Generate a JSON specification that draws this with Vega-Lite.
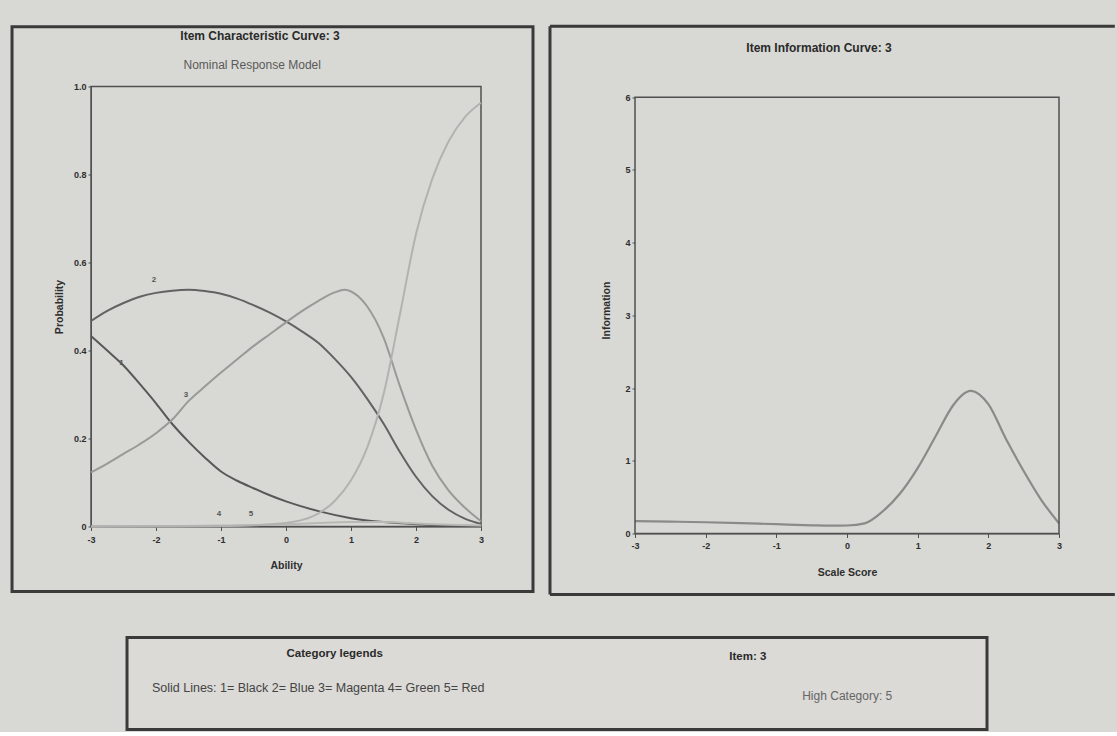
{
  "$schema": "https://vega.github.io/schema/vega-lite/v6.json",
  "background": "#d8d8d4",
  "padding": {"left": 9, "top": 23.5, "right": 0, "bottom": 0},
  "config": {
    "font": "Liberation Sans",
    "view": {"stroke": "#505050", "strokeWidth": 1.5},
    "axis": {
      "grid": false,
      "zindex": 1,
      "domainColor": "#505050",
      "tickColor": "#505050",
      "labelColor": "#2e2e2e",
      "titleColor": "#2e2e2e",
      "labelFontSize": 9,
      "labelFontWeight": "bold",
      "titleFontSize": 10.5,
      "titleFontWeight": "bold",
      "tickSize": 4,
      "labelFlush": false,
      "labelOverlap": false
    }
  },
  "datasets": {
    "icc": [
      {"cat": "1", "x": -3, "p": 0.433}, {"cat": "1", "x": -2.75, "p": 0.4}, {"cat": "1", "x": -2.5, "p": 0.366},
      {"cat": "1", "x": -2.25, "p": 0.324}, {"cat": "1", "x": -2, "p": 0.28}, {"cat": "1", "x": -1.75, "p": 0.233},
      {"cat": "1", "x": -1.5, "p": 0.193}, {"cat": "1", "x": -1.25, "p": 0.157}, {"cat": "1", "x": -1, "p": 0.125},
      {"cat": "1", "x": -0.75, "p": 0.104}, {"cat": "1", "x": -0.5, "p": 0.087}, {"cat": "1", "x": -0.25, "p": 0.071},
      {"cat": "1", "x": 0, "p": 0.057}, {"cat": "1", "x": 0.5, "p": 0.035}, {"cat": "1", "x": 1, "p": 0.019},
      {"cat": "1", "x": 1.5, "p": 0.01}, {"cat": "1", "x": 2, "p": 0.005}, {"cat": "1", "x": 2.5, "p": 0.002},
      {"cat": "1", "x": 3, "p": 0.001},
      {"cat": "2", "x": -3, "p": 0.467}, {"cat": "2", "x": -2.75, "p": 0.49}, {"cat": "2", "x": -2.5, "p": 0.508},
      {"cat": "2", "x": -2.25, "p": 0.522}, {"cat": "2", "x": -2, "p": 0.531}, {"cat": "2", "x": -1.75, "p": 0.536},
      {"cat": "2", "x": -1.5, "p": 0.538}, {"cat": "2", "x": -1.25, "p": 0.535}, {"cat": "2", "x": -1, "p": 0.529},
      {"cat": "2", "x": -0.75, "p": 0.518}, {"cat": "2", "x": -0.5, "p": 0.503}, {"cat": "2", "x": -0.25, "p": 0.486},
      {"cat": "2", "x": 0, "p": 0.466}, {"cat": "2", "x": 0.25, "p": 0.443}, {"cat": "2", "x": 0.5, "p": 0.417},
      {"cat": "2", "x": 0.75, "p": 0.381}, {"cat": "2", "x": 1, "p": 0.34}, {"cat": "2", "x": 1.25, "p": 0.29},
      {"cat": "2", "x": 1.5, "p": 0.234}, {"cat": "2", "x": 1.75, "p": 0.17}, {"cat": "2", "x": 2, "p": 0.113},
      {"cat": "2", "x": 2.25, "p": 0.069}, {"cat": "2", "x": 2.5, "p": 0.038}, {"cat": "2", "x": 2.75, "p": 0.018},
      {"cat": "2", "x": 3, "p": 0.006},
      {"cat": "3", "x": -3, "p": 0.123}, {"cat": "3", "x": -2.75, "p": 0.143}, {"cat": "3", "x": -2.5, "p": 0.165},
      {"cat": "3", "x": -2.25, "p": 0.187}, {"cat": "3", "x": -2, "p": 0.212}, {"cat": "3", "x": -1.75, "p": 0.243},
      {"cat": "3", "x": -1.5, "p": 0.285}, {"cat": "3", "x": -1.25, "p": 0.318}, {"cat": "3", "x": -1, "p": 0.35},
      {"cat": "3", "x": -0.75, "p": 0.38}, {"cat": "3", "x": -0.5, "p": 0.41}, {"cat": "3", "x": -0.25, "p": 0.437},
      {"cat": "3", "x": 0, "p": 0.464}, {"cat": "3", "x": 0.25, "p": 0.49}, {"cat": "3", "x": 0.5, "p": 0.513},
      {"cat": "3", "x": 0.75, "p": 0.532}, {"cat": "3", "x": 0.9, "p": 0.538}, {"cat": "3", "x": 1.05, "p": 0.53},
      {"cat": "3", "x": 1.25, "p": 0.5}, {"cat": "3", "x": 1.5, "p": 0.43}, {"cat": "3", "x": 1.75, "p": 0.32},
      {"cat": "3", "x": 2, "p": 0.22}, {"cat": "3", "x": 2.25, "p": 0.138}, {"cat": "3", "x": 2.5, "p": 0.082},
      {"cat": "3", "x": 2.75, "p": 0.043}, {"cat": "3", "x": 3, "p": 0.012},
      {"cat": "4", "x": -3, "p": 0.0}, {"cat": "4", "x": -2, "p": 0.001}, {"cat": "4", "x": -1, "p": 0.002},
      {"cat": "4", "x": 0, "p": 0.005}, {"cat": "4", "x": 0.5, "p": 0.008}, {"cat": "4", "x": 1, "p": 0.01},
      {"cat": "4", "x": 1.5, "p": 0.01}, {"cat": "4", "x": 2, "p": 0.007}, {"cat": "4", "x": 2.5, "p": 0.004},
      {"cat": "4", "x": 3, "p": 0.002},
      {"cat": "5", "x": -3, "p": 0.0}, {"cat": "5", "x": -2, "p": 0.0}, {"cat": "5", "x": -1, "p": 0.001},
      {"cat": "5", "x": -0.5, "p": 0.003}, {"cat": "5", "x": 0, "p": 0.008}, {"cat": "5", "x": 0.25, "p": 0.015},
      {"cat": "5", "x": 0.5, "p": 0.03}, {"cat": "5", "x": 0.75, "p": 0.058}, {"cat": "5", "x": 1, "p": 0.105},
      {"cat": "5", "x": 1.25, "p": 0.18}, {"cat": "5", "x": 1.5, "p": 0.3}, {"cat": "5", "x": 1.75, "p": 0.48},
      {"cat": "5", "x": 2, "p": 0.665}, {"cat": "5", "x": 2.25, "p": 0.79}, {"cat": "5", "x": 2.5, "p": 0.875},
      {"cat": "5", "x": 2.75, "p": 0.93}, {"cat": "5", "x": 3, "p": 0.963}
    ],
    "labels": [
      {"label": "1", "x": -2.53, "y": 0.371},
      {"label": "2", "x": -2.03, "y": 0.56},
      {"label": "3", "x": -1.54, "y": 0.3},
      {"label": "4", "x": -1.03, "y": 0.028},
      {"label": "5", "x": -0.54, "y": 0.028}
    ],
    "iic": [
      {"x": -3, "info": 0.17}, {"x": -2.5, "info": 0.163}, {"x": -2, "info": 0.155}, {"x": -1.5, "info": 0.143},
      {"x": -1, "info": 0.128}, {"x": -0.5, "info": 0.113}, {"x": -0.25, "info": 0.107}, {"x": 0, "info": 0.11},
      {"x": 0.25, "info": 0.14}, {"x": 0.5, "info": 0.3}, {"x": 0.75, "info": 0.55}, {"x": 1, "info": 0.9},
      {"x": 1.25, "info": 1.33}, {"x": 1.5, "info": 1.76}, {"x": 1.625, "info": 1.9}, {"x": 1.75, "info": 1.96},
      {"x": 1.875, "info": 1.91}, {"x": 2, "info": 1.78}, {"x": 2.25, "info": 1.3}, {"x": 2.5, "info": 0.86},
      {"x": 2.75, "info": 0.46}, {"x": 3, "info": 0.14}
    ]
  },
  "spacing": 39,
  "vconcat": [
    {
      "spacing": 12,
      "hconcat": [
        {
          "width": 390,
          "height": 440,
          "view": {"stroke": "#505050", "strokeWidth": 1.5},
          "layer": [
            {
              "data": {"name": "icc"},
              "mark": {"type": "line", "strokeWidth": 2, "interpolate": "monotone"},
              "encoding": {
                "x": {
                  "field": "x", "type": "quantitative", "scale": {"domain": [-3, 3]},
                  "axis": {"title": "Ability", "values": [-3, -2, -1, 0, 1, 2, 3], "labelExpr": "'' + datum.value", "labelPadding": 5, "titlePadding": 16}
                },
                "y": {
                  "field": "p", "type": "quantitative", "scale": {"domain": [0, 1]},
                  "axis": {"title": "Probability", "values": [0, 0.2, 0.4, 0.6, 0.8, 1], "labelExpr": "datum.value == 0 ? '0' : format(datum.value, '.1f')", "tickSize": 3, "labelPadding": 2, "titlePadding": 9}
                },
                "color": {
                  "field": "cat", "type": "nominal",
                  "scale": {"domain": ["5", "4", "3", "2", "1"], "range": ["#b2b2b0", "#b8b8b5", "#999997", "#626262", "#585858"]},
                  "legend": null
                }
              }
            },
            {
              "data": {"values": [{}]},
              "mark": {"type": "rect", "fill": null, "stroke": "#3a3a3a", "strokeWidth": 3},
              "encoding": {
                "x": {"datum": -4.215, "type": "quantitative", "scale": {"domain": [-3, 3]}},
                "x2": {"datum": 3.8},
                "y": {"datum": -0.148, "type": "quantitative", "scale": {"domain": [0, 1]}},
                "y2": {"datum": 1.136}
              }
            },
            {
              "data": {"name": "labels"},
              "mark": {"type": "text", "fontSize": 8, "fontWeight": "bold", "color": "#555555"},
              "encoding": {
                "x": {"field": "x", "type": "quantitative", "scale": {"domain": [-3, 3]}},
                "y": {"field": "y", "type": "quantitative", "scale": {"domain": [0, 1]}},
                "text": {"field": "label"}
              }
            },
            {
              "data": {"values": [{}]},
              "mark": {"type": "text", "text": "Item Characteristic Curve: 3", "fontSize": 12, "fontWeight": "bold", "color": "#2a2a2a"},
              "encoding": {
                "x": {"datum": -0.4, "type": "quantitative", "scale": {"domain": [-3, 3]}},
                "y": {"datum": 1.114, "type": "quantitative", "scale": {"domain": [0, 1]}}
              }
            },
            {
              "data": {"values": [{}]},
              "mark": {"type": "text", "text": "Nominal Response Model", "fontSize": 12, "color": "#5a5a5a"},
              "encoding": {
                "x": {"datum": -0.52, "type": "quantitative", "scale": {"domain": [-3, 3]}},
                "y": {"datum": 1.05, "type": "quantitative", "scale": {"domain": [0, 1]}}
              }
            }
          ]
        },
        {
          "width": 424,
          "height": 447,
          "view": {"stroke": null},
          "layer": [
            {
              "data": {"name": "iic"},
              "mark": {"type": "line", "strokeWidth": 2.2, "interpolate": "monotone", "color": "#8a8a88"},
              "encoding": {
                "x": {
                  "field": "x", "type": "quantitative", "scale": {"domain": [-3, 3]},
                  "axis": {"title": "Scale Score", "values": [-3, -2, -1, 0, 1, 2, 3], "labelExpr": "'' + datum.value", "labelPadding": 4, "titlePadding": 17}
                },
                "y": {
                  "field": "info", "type": "quantitative", "scale": {"domain": [0, 6.147], "nice": false},
                  "axis": {"title": "Information", "domain": false, "values": [0, 1, 2, 3, 4, 5, 6], "labelExpr": "'' + datum.value", "tickSize": 3, "labelPadding": 2, "titlePadding": 13}
                }
              }
            },
            {
              "data": {"values": [{}]},
              "mark": {"type": "rect", "fill": null, "stroke": "#505050", "strokeWidth": 1.5},
              "encoding": {
                "x": {"datum": -3, "type": "quantitative", "scale": {"domain": [-3, 3]}},
                "x2": {"datum": 3},
                "y": {"datum": 0, "type": "quantitative", "scale": {"domain": [0, 6.147], "nice": false}},
                "y2": {"datum": 6}
              }
            },
            {
              "data": {"values": [{}]},
              "mark": {"type": "rule", "stroke": "#3a3a3a", "strokeWidth": 3},
              "encoding": {
                "x": {"datum": -4.203, "type": "quantitative", "scale": {"domain": [-3, 3]}},
                "y": {"datum": -0.839, "type": "quantitative", "scale": {"domain": [0, 6.147], "nice": false}},
                "y2": {"datum": 6.974}
              }
            },
            {
              "data": {"values": [{}]},
              "mark": {"type": "rule", "stroke": "#3a3a3a", "strokeWidth": 3},
              "encoding": {
                "x": {"datum": -4.203, "type": "quantitative", "scale": {"domain": [-3, 3]}},
                "x2": {"datum": 3.79},
                "y": {"datum": 6.974, "type": "quantitative", "scale": {"domain": [0, 6.147], "nice": false}}
              }
            },
            {
              "data": {"values": [{}]},
              "mark": {"type": "rule", "stroke": "#3a3a3a", "strokeWidth": 3},
              "encoding": {
                "x": {"datum": -4.203, "type": "quantitative", "scale": {"domain": [-3, 3]}},
                "x2": {"datum": 3.79},
                "y": {"datum": -0.839, "type": "quantitative", "scale": {"domain": [0, 6.147], "nice": false}}
              }
            },
            {
              "data": {"values": [{}]},
              "mark": {"type": "text", "text": "Item Information Curve: 3", "fontSize": 12, "fontWeight": "bold", "color": "#2a2a2a"},
              "encoding": {
                "x": {"datum": -0.396, "type": "quantitative", "scale": {"domain": [-3, 3]}},
                "y": {"datum": 6.68, "type": "quantitative", "scale": {"domain": [0, 6.147], "nice": false}}
              }
            }
          ]
        }
      ]
    },
    {
      "width": 896,
      "height": 92,
      "view": {"stroke": null},
      "data": {"values": [{}]},
      "layer": [
        {
          "mark": {"type": "rect", "fill": "#dbdad6", "stroke": "#3a3a3a", "strokeWidth": 3},
          "encoding": {
            "x": {"datum": 0.0402, "type": "quantitative", "scale": {"domain": [0, 1]}, "axis": null},
            "x2": {"datum": 1},
            "y": {"datum": 0, "type": "quantitative", "scale": {"domain": [0, 1]}, "axis": null},
            "y2": {"datum": 1}
          }
        },
        {
          "mark": {"type": "text", "text": "Category legends", "fontSize": 11.5, "fontWeight": "bold", "color": "#2a2a2a"},
          "encoding": {
            "x": {"datum": 0.272, "type": "quantitative", "scale": {"domain": [0, 1]}, "axis": null},
            "y": {"datum": 0.826, "type": "quantitative", "scale": {"domain": [0, 1]}, "axis": null}
          }
        },
        {
          "mark": {"type": "text", "text": "Solid Lines:  1= Black  2= Blue  3= Magenta  4= Green  5= Red", "fontSize": 12.5, "align": "left", "color": "#444444"},
          "encoding": {
            "x": {"datum": 0.068, "type": "quantitative", "scale": {"domain": [0, 1]}, "axis": null},
            "y": {"datum": 0.446, "type": "quantitative", "scale": {"domain": [0, 1]}, "axis": null}
          }
        },
        {
          "mark": {"type": "text", "text": "Item: 3", "fontSize": 11.5, "fontWeight": "bold", "color": "#2a2a2a"},
          "encoding": {
            "x": {"datum": 0.733, "type": "quantitative", "scale": {"domain": [0, 1]}, "axis": null},
            "y": {"datum": 0.783, "type": "quantitative", "scale": {"domain": [0, 1]}, "axis": null}
          }
        },
        {
          "mark": {"type": "text", "text": "High Category: 5", "fontSize": 12, "color": "#666666"},
          "encoding": {
            "x": {"datum": 0.844, "type": "quantitative", "scale": {"domain": [0, 1]}, "axis": null},
            "y": {"datum": 0.359, "type": "quantitative", "scale": {"domain": [0, 1]}, "axis": null}
          }
        }
      ]
    }
  ]
}
